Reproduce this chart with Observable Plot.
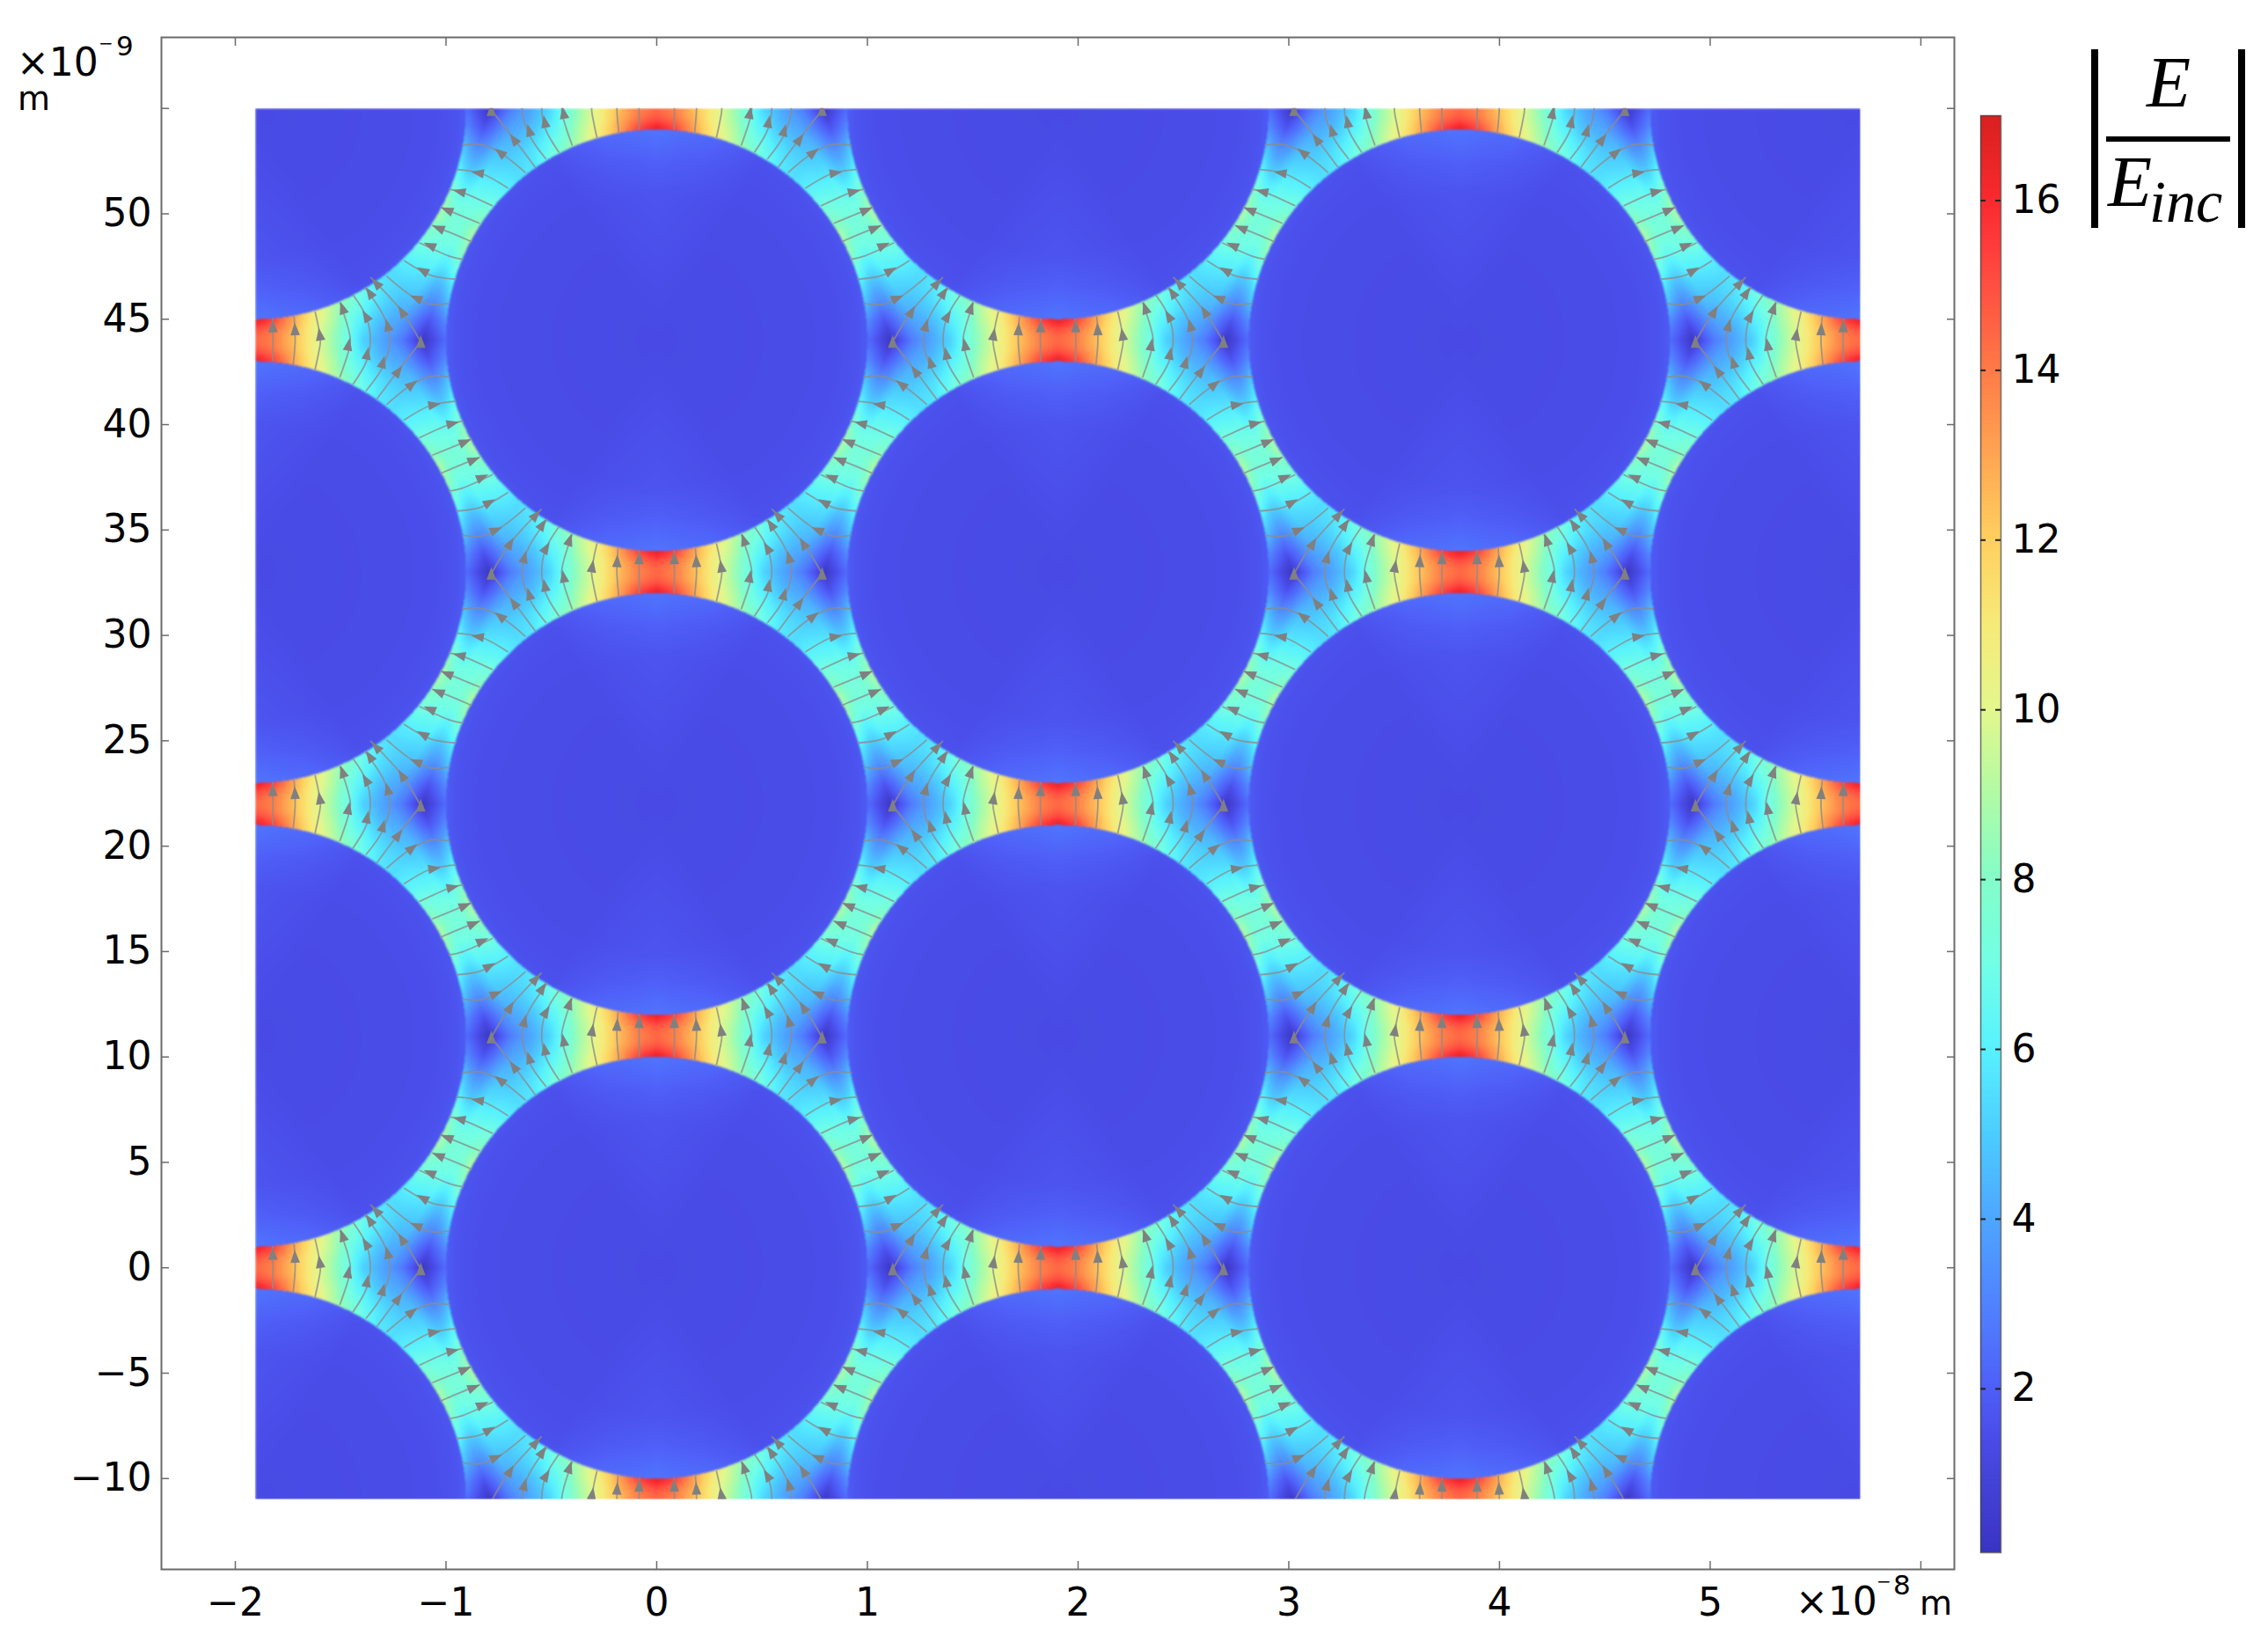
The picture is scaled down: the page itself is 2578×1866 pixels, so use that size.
<!DOCTYPE html>
<html>
<head>
<meta charset="utf-8">
<script src="https://cdn.jsdelivr.net/npm/d3@7"></script>
<script src="https://cdn.jsdelivr.net/npm/@observablehq/plot@0.6"></script>
<style>
  html, body { margin: 0; padding: 0; background: #fff; }
  #page { position: relative; width: 2578px; height: 1866px; overflow: hidden; font-family: "DejaVu Sans", sans-serif; color: #000; }
  #page svg { position: absolute; top: 0; background: transparent; }
  .t { position: absolute; line-height: 1; white-space: pre; }
  .math { font-family: "Liberation Serif", serif; font-style: italic; }
  .bar { position: absolute; background: #000; }
</style>
</head>
<body>
<div id="page"></div>
<script>
// ---------- axis ticks (nm) ----------
const xTicks = [-20, -10, 0, 10, 20, 30, 40, 50, 60];
const xTickLabels = ["−2", "−1", "0", "1", "2", "3", "4", "5", ""];
const yTicks = [-10, -5, 0, 5, 10, 15, 20, 25, 30, 35, 40, 45, 50, 55];
const yTickLabels = ["−10", "−5", "0", "5", "10", "15", "20", "25", "30", "35", "40", "45", "50", ""];
const colorTicks = [2, 4, 6, 8, 10, 12, 14, 16];

// ---------- colour scale ----------
const colorValues = [0.07, 1, 1.4, 2, 3, 4, 5, 6, 7, 8, 9, 10, 11, 12, 13, 14, 14.5, 15, 15.5, 16, 16.5, 17];
const colorHexes = ["#3a34c4", "#4545da", "#4a4ce8", "#4f5ff8", "#5083ff", "#4ea6ff", "#4ccdff", "#58f2ff", "#72ffe6", "#84fdc8", "#b2fba5", "#e3f78d", "#f7ea78", "#ffcf60", "#ffa552", "#ff7a48", "#ff6344", "#ff4f42", "#ff3a3a", "#f92a2e", "#e82526", "#d92020"];

// ---------- lattice geometry (nm) ----------
const latticeDx = 19.05, latticeHalf = 11, circleRadius = 10;
const heatX = [-19.05, 57.15], heatY = [-11, 55];
const frameX = [-23.507, 61.59], frameY = [-14.31, 58.37];

// ---------- |E/Einc|, around one circle ----------
// outside a circle: rows = polar angle, columns = fraction of the way to the cell edge
const fieldAngles = [0, 5, 10, 15, 20, 25, 30, 35, 40, 45, 50, 55, 60, 65, 70, 75, 80, 85, 90];
const fieldFractions = [0, 0.2, 0.4, 0.6, 0.8, 1];
const fieldValues = [
  [2.4, 1.4, 0.3, 1.7, 2.9, 3.6],
  [3.3, 2.4, 1.7, 2.4, 3.3, 4.0],
  [4.9, 3.9, 3.3, 3.5, 4.2, 4.7],
  [6.0, 5.2, 4.7, 4.7, 5.1, 5.5],
  [7.2, 6.7, 6.1, 5.9, 6.1, 6.5],
  [8.5, 8.0, 7.3, 7.0, 7.0, 7.1],
  [9.0, 8.6, 8.0, 7.6, 7.4, 7.4],
  [8.0, 7.8, 7.5, 7.2, 7.1, 7.1],
  [7.0, 6.9, 6.8, 6.6, 6.5, 6.5],
  [6.0, 6.0, 5.9, 5.8, 5.6, 5.5],
  [5.5, 5.4, 5.3, 5.1, 4.9, 4.7],
  [5.8, 5.6, 5.3, 4.9, 4.4, 4.0],
  [7.0, 6.3, 5.6, 4.8, 4.1, 3.6],
  [8.3, 7.6, 6.9, 6.3, 5.7, 5.1],
  [9.6, 9.3, 9.0, 8.6, 8.2, 7.9],
  [11.2, 11.0, 10.7, 10.4, 10.3, 10.2],
  [13.2, 13.0, 12.8, 12.5, 12.3, 12.2],
  [15.3, 14.9, 14.4, 14.0, 13.8, 13.8],
  [16.6, 16.0, 15.3, 14.8, 14.5, 14.4]
];
// inside a circle: rows = polar angle, columns = depth below the surface (nm)
const innerAngles = [0, 30, 60, 75, 90];
const innerDepths = [0, 0.5, 1.5, 3, 10];
const innerValues = [
  [1.9, 1.6, 1.45, 1.4, 1.3],
  [1.7, 1.55, 1.45, 1.4, 1.3],
  [1.6, 1.5, 1.45, 1.4, 1.3],
  [2.3, 2.1, 1.8, 1.55, 1.3],
  [2.6, 2.45, 2.05, 1.65, 1.3]
];

// ---------- streamlines, nm relative to a gap's centre ----------
const gapColumnsOdd = [0, 38.1], gapRowsOdd = [-11, 11, 33, 55];
const gapColumnsEven = [-19.05, 19.05, 57.15], gapRowsEven = [0, 22, 44];

const centralPaths = [
  [[0.82, -0.97], [0.84, 0], [0.82, 1.0]],
  [[1.80, -1.13], [1.89, 0], [1.84, 1.10]],
  [[2.84, -1.36], [2.98, -0.71], [3.09, 0], [2.98, 0.71], [2.84, 1.34]],
  [[4.02, -1.73], [4.40, -0.6], [4.51, 0], [4.40, 0.6], [4.02, 1.76]],
  [[4.65, -2.07], [5.27, -1.0], [5.46, 0], [5.27, 1.1], [4.65, 2.14]],
  [[5.27, -2.38], [6.04, -1.27], [6.39, 0], [6.11, 1.1], [5.20, 2.49]],
  [[5.76, -2.80], [6.80, -1.41], [7.85, -0.08]],
  [[7.85, -0.08], [6.95, 1.38], [5.48, 2.98]]
];
const centralArrows = [
  [[0.83, 0.65]],
  [[1.88, 0.51]],
  [[3.06, 0.26]],
  [[4.42, -0.22], [4.14, 1.52]],
  [[5.31, -0.64], [5.25, 1.14]],
  [[6.05, -1.05], [6.28, 0.70], [5.43, 2.25]],
  [[6.78, -1.47], [7.85, -0.08, 0]],
  [[6.96, 1.35], [5.74, 2.70]]
];
const sidePaths = [
  [[6.25, -3.03], [7.43, -2.10], [8.34, -1.71], [9.20, -1.75]],
  [[7.08, -3.77], [8.34, -3.08], [9.49, -2.90]],
  [[7.82, -4.61], [9.24, -3.98], [9.83, -3.84]],
  [[8.43, -5.44], [9.94, -4.82], [10.24, -4.68]]
];
const sideArrowsLower = [[[7.43, -2.10]], [[8.48, -3.06]], [[9.35, -3.95]], [[9.94, -4.82]]];
const sideArrowsUpper = [[[7.64, 2.00]], [[7.95, 3.30]], [[8.29, 4.50]], [[8.70, 5.32]]];

// ---------- lookups ----------
const RAD = Math.PI / 180;
function bilinear(rows, cols, table, a, b) {
  let i = d3.bisectRight(rows, a) - 1; i = Math.max(0, Math.min(rows.length - 2, i));
  let j = d3.bisectRight(cols, b) - 1; j = Math.max(0, Math.min(cols.length - 2, j));
  const u = Math.min(1, Math.max(0, (a - rows[i]) / (rows[i + 1] - rows[i])));
  const v = Math.min(1, Math.max(0, (b - cols[j]) / (cols[j + 1] - cols[j])));
  const p = table[i], q = table[i + 1];
  return (1 - u) * ((1 - v) * p[j] + v * p[j + 1]) + u * ((1 - v) * q[j] + v * q[j + 1]);
}
function fieldAt(x, y) {
  const ci = Math.round(x / latticeDx), cj = Math.round(y / latticeHalf);
  let best = Infinity, bx = 0, by = 0;
  for (let i = ci - 1; i <= ci + 1; i++) for (let j = cj - 1; j <= cj + 1; j++) {
    if ((i + j) & 1) continue;
    const dx = x - i * latticeDx, dy = y - j * latticeHalf, d = dx * dx + dy * dy;
    if (d < best) { best = d; bx = Math.abs(dx); by = Math.abs(dy); }
  }
  const r = Math.sqrt(best), angle = Math.atan2(by, bx) / RAD;
  if (r <= circleRadius) return bilinear(innerAngles, innerDepths, innerValues, angle, circleRadius - r);
  const edge = angle < 60 ? latticeHalf / Math.cos((angle - 30) * RAD) : latticeHalf / Math.sin(angle * RAD);
  return bilinear(fieldAngles, fieldFractions, fieldValues, angle, (r - circleRadius) / (edge - circleRadius));
}

// ---------- streamline assembly ----------
function directionAt(path, p) {
  let best = Infinity, dir = [0, 1];
  for (let k = 0; k + 1 < path.length; k++) {
    const [ax, ay] = path[k], [bx, by] = path[k + 1];
    const vx = bx - ax, vy = by - ay;
    const t = Math.max(0, Math.min(1, ((p[0] - ax) * vx + (p[1] - ay) * vy) / (vx * vx + vy * vy)));
    const d = Math.hypot(ax + t * vx - p[0], ay + t * vy - p[1]);
    if (d < best) { best = d; dir = [vx, vy]; }
  }
  return Math.atan2(dir[0], dir[1]) / RAD;
}
const templates = [];
function addTemplate(path, arrows) {
  const heads = arrows.map(a => ({ x: a[0], y: a[1], rotate: a.length > 2 ? a[2] : directionAt(path, a) }));
  templates.push({ path, heads });
  templates.push({ path: path.map(([x, y]) => [-x, y]), heads: heads.map(h => ({ x: -h.x, y: h.y, rotate: -h.rotate })) });
}
centralPaths.forEach((p, k) => addTemplate(p, centralArrows[k]));
sidePaths.forEach((p, k) => {
  addTemplate(p, sideArrowsLower[k]);
  const up = p.map(([x, y]) => [x, -y]).reverse();
  addTemplate(up, sideArrowsUpper[k]);
});
const gaps = [
  ...d3.cross(gapColumnsOdd, gapRowsOdd),
  ...d3.cross(gapColumnsEven, gapRowsEven)
];
const inField = (x, y) => x >= heatX[0] && x <= heatX[1] && y >= heatY[0] && y <= heatY[1];
const lineRows = [], headRows = [];
gaps.forEach(([gx, gy], g) => templates.forEach((t, k) => {
  // only streamlines that reach into the field's rectangle are drawn
  if (t.path.some(([x, y]) => inField(gx + x, gy + y))) {
    t.path.forEach(([x, y]) => lineRows.push({ id: g + "-" + k, x: gx + x, y: gy + y }));
  }
  t.heads.forEach(h => { if (inField(gx + h.x, gy + h.y)) headRows.push({ x: gx + h.x, y: gy + h.y, rotate: h.rotate }); });
}));

const arrowHead = {
  draw(ctx, size) {
    const s = Math.sqrt(size) / 12.4;
    ctx.moveTo(0, -8 * s);
    ctx.lineTo(5.4 * s, 6.5 * s);
    ctx.lineTo(-5.4 * s, 6.5 * s);
    ctx.closePath();
  }
};

const colorOptions = { type: "linear", domain: colorValues, range: colorHexes, clamp: true };
const gridColor = "#6b6b6b";
const baseFont = { fontFamily: "DejaVu Sans, sans-serif", background: "transparent" };

// ---------- main plot ----------
const main = Plot.plot({
  width: 2240, height: 1866,
  marginLeft: 183, marginRight: 19, marginTop: 42, marginBottom: 83,
  style: baseFont,
  x: { domain: frameX, label: null },
  y: { domain: frameY, label: null },
  color: colorOptions,
  marks: [
    Plot.raster({ fill: fieldAt, x1: heatX[0], x2: heatX[1], y1: heatY[0], y2: heatY[1], pixelSize: 1, imageFilter: "blur(0.9px)" }),
    Plot.line(lineRows, { x: "x", y: "y", z: "id", curve: "catmull-rom", stroke: "#8c8c8c", strokeWidth: 1.8, strokeOpacity: 0.8 }),
    Plot.dot(headRows, { x: "x", y: "y", rotate: "rotate", r: 7, symbol: arrowHead, fill: "#808080", stroke: "none" }),
    // outside the field's rectangle the streamlines are masked
    Plot.rect([0], { x1: frameX[0], x2: heatX[0], y1: frameY[0], y2: frameY[1], fill: "white" }),
    Plot.rect([0], { x1: heatX[1], x2: frameX[1], y1: frameY[0], y2: frameY[1], fill: "white" }),
    Plot.rect([0], { x1: frameX[0], x2: frameX[1], y1: heatY[1], y2: frameY[1], fill: "white" }),
    Plot.rect([0], { x1: frameX[0], x2: frameX[1], y1: frameY[0], y2: heatY[0], fill: "white" }),
    Plot.frame({ stroke: gridColor, strokeWidth: 2 }),
    Plot.axisX(xTicks, { anchor: "bottom", tickSize: -9, tickPadding: 30, stroke: gridColor, strokeWidth: 1.5, fontSize: 44, fill: "black", tickFormat: d => xTickLabels[xTicks.indexOf(d)] }),
    Plot.axisX(xTicks, { anchor: "top", tickSize: -9, stroke: gridColor, strokeWidth: 1.5, tickFormat: () => "" }),
    Plot.axisY(yTicks, { anchor: "left", tickSize: -9, tickPadding: 20, stroke: gridColor, strokeWidth: 1.5, fontSize: 44, fill: "black", tickFormat: d => yTickLabels[yTicks.indexOf(d)] }),
    Plot.axisY(yTicks, { anchor: "right", tickSize: -9, stroke: gridColor, strokeWidth: 1.5, tickFormat: () => "" })
  ]
});
main.style.left = "0px";

// ---------- colour bar ----------
const barStrips = d3.range(colorValues[0], 17, 0.02);
const bar = Plot.plot({
  width: 338, height: 1866,
  marginLeft: 11, marginRight: 304, marginTop: 131, marginBottom: 102,
  style: baseFont,
  x: { domain: [0, 1], axis: null },
  y: { domain: [colorValues[0], 17], axis: null },
  color: colorOptions,
  marks: [
    Plot.rect(barStrips, { x1: 0, x2: 1, y1: d => d, y2: d => Math.min(17, d + 0.03), fill: d => d }),
    Plot.frame({ stroke: "#444", strokeWidth: 1.5, strokeOpacity: 0.75 }),
    Plot.tickY(colorTicks, { y: d => d, insetRight: 17, stroke: "#222", strokeWidth: 2 }),
    Plot.tickY(colorTicks, { y: d => d, insetLeft: 17, stroke: "#222", strokeWidth: 2 }),
    Plot.axisY(colorTicks, { anchor: "right", tickSize: 0, tickPadding: 12, fontSize: 44, fill: "black", stroke: "none", label: null, tickFormat: d => String(d) })
  ]
});
bar.style.left = "2240px";

// ---------- page ----------
const page = document.getElementById("page");
page.append(main, bar);
function put(text, left, top, size, cls, extra) {
  const el = document.createElement("div");
  el.className = "t " + (cls || "");
  el.textContent = text;
  el.style.left = left + "px"; el.style.top = top + "px"; el.style.fontSize = size + "px";
  if (extra) Object.assign(el.style, extra);
  page.append(el);
  return el;
}
function block(left, top, w, h) {
  const el = document.createElement("div");
  el.className = "bar";
  Object.assign(el.style, { left: left + "px", top: top + "px", width: w + "px", height: h + "px" });
  page.append(el);
}
// y multiplier
put("×10", 19, 49, 44);
put("−", 112, 39, 20);
put("9", 132, 37, 31);
put("m", 20, 93, 38);
// x multiplier
put("×10", 2041, 1798, 44);
put("−", 2133, 1787, 20);
put("8", 2152, 1786, 31);
put("m", 2182, 1803, 38);
// colour-bar title
block(2377, 56, 8, 203);
block(2544, 56, 8, 203);
block(2394, 155, 141, 6);
put("E", 2440, 53, 82, "math");
put("E", 2396, 166, 82, "math");
put("inc", 2443, 195, 68, "math");
</script>
</body>
</html>
